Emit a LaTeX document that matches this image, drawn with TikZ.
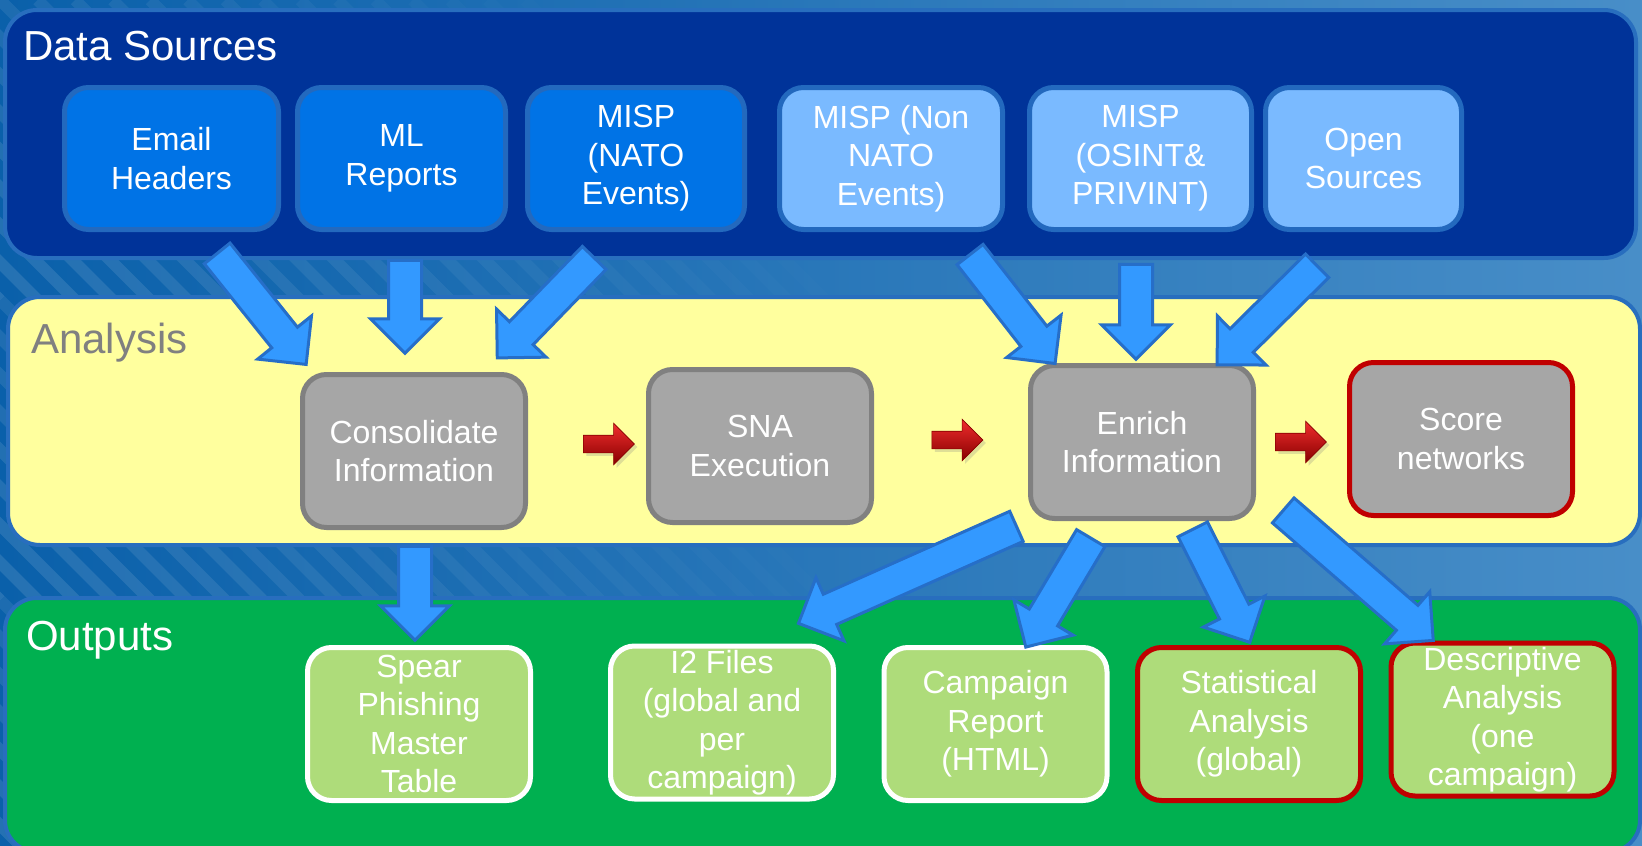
\documentclass[tikz,border=0pt]{standalone}
\usepackage{fontspec}
\setmainfont{Liberation Sans}
\usetikzlibrary{shapes.arrows,calc,shadows}

\definecolor{bgblue}{RGB}{10,96,170}
\definecolor{bglight}{RGB}{72,142,200}
\definecolor{panelblue}{RGB}{0,51,153}
\definecolor{paneledge}{RGB}{40,110,190}
\definecolor{srcdark}{RGB}{0,115,230}
\definecolor{srclight}{RGB}{122,186,255}
\definecolor{srcedge}{RGB}{35,105,190}
\definecolor{anayellow}{RGB}{255,255,158}
\definecolor{anagrey}{RGB}{166,166,166}
\definecolor{anaedge}{RGB}{128,128,128}
\definecolor{outgreen}{RGB}{0,176,80}
\definecolor{outfill}{RGB}{174,220,122}
\definecolor{boxred}{RGB}{192,0,0}
\definecolor{arrowblue}{RGB}{51,153,255}
\definecolor{arrowedge}{RGB}{38,110,200}
\definecolor{redtop}{RGB}{240,45,45}
\definecolor{redbottom}{RGB}{135,0,0}

\tikzset{
  panel/.style={draw=paneledge, line width=4pt, rounded corners=32pt},
  title/.style={anchor=base west, inner sep=0pt, font=\fontsize{42}{50}\selectfont},
  box/.style={rounded corners=24pt, line width=5pt, align=center, text=white,
    inner sep=0pt, font=\fontsize{32}{38.5}\selectfont},
  srcbox/.style={box, draw=srcedge, fill=srcdark, minimum height=142pt},
  srcboxlight/.style={srcbox, fill=srclight},
  anabox/.style={box, draw=anaedge, fill=anagrey, minimum width=223pt, minimum height=153pt},
  outbox/.style={box, draw=white, fill=outfill, minimum width=223pt, minimum height=153pt},
  bluearrow/.style={single arrow, draw=arrowedge, fill=arrowblue, line width=3pt,
    inner sep=15pt, single arrow head extend=18pt},
  redarrow/.style={single arrow, draw=redbottom, line width=0.6pt, inner sep=8.5pt,
    minimum height=51pt, single arrow head extend=12pt,
    top color=redtop, bottom color=redbottom,
    drop shadow={opacity=0.25, shadow xshift=3pt, shadow yshift=-3pt}}
}

% block arrow from tail #1 to tip #2
\newcommand\feed[2]{%
  \path let \p1=($(#2)-(#1)$), \n1={atan2(\y1,\x1)}, \n2={veclen(\x1,\y1)} in
    node[bluearrow, rotate=\n1, minimum height=\n2] at ($(#1)!0.5!(#2)$) {};}

\begin{document}
\begin{tikzpicture}[x=1pt,y=1pt]
  \useasboundingbox (0,0) rectangle (1642,-846);
  % background
  \fill[left color=bgblue, right color=bglight] (0,0) rectangle (1642,-846);
  \foreach \y in {0,-300,-600}
    \foreach \x in {-300,-262.5,...,750} {
      \pgfmathsetmacro\op{max(0,0.1*(1-(\x+150)/750))}
      \draw[white, opacity=\op, line width=12pt] (\x,\y) -- ++(300,-300);
    }

  % panels
  \draw[panel, fill=panelblue] (5,-10) rectangle (1636,-258);
  \draw[panel, fill=anayellow] (8,-297) rectangle (1640,-545);
  \draw[panel, fill=outgreen] (5,-598) rectangle (1640,-852);
  \node[title, text=white] (dstitle) at (23,-60) {Data Sources};
  \node[title, text=anaedge] (antitle) at (31,-353) {Analysis};
  \node[title, text=white] (outtitle) at (26,-650) {Outputs};

  % data sources
  \node[srcbox, minimum width=214pt] (email) at (171.5,-158.5) {Email\\Headers};
  \node[srcbox, minimum width=208pt] (mlrep) at (401.5,-158.5) {ML\\Reports};
  \node[srcbox, minimum width=217pt] (natoev) at (636,-158.5) {MISP\\(NATO\\Events)};
  \node[srcboxlight, minimum width=223pt] (nonnato) at (891,-158.5) {MISP (Non\\NATO\\Events)};
  \node[srcboxlight, minimum width=222pt] (osint) at (1140.5,-158.5) {MISP\\(OSINT\&\\PRIVINT)};
  \node[srcboxlight, minimum width=196pt] (opensrc) at (1363.5,-158.5) {Open\\Sources};

  % analysis
  \node[anabox] (consol) at (414,-451) {Consolidate\\Information};
  \node[anabox] (sna) at (760,-446) {SNA\\Execution};
  \node[anabox] (enrich) at (1142,-442) {Enrich\\Information};
  \node[anabox, draw=boxred] (score) at (1461,-439) {Score\\networks};

  % outputs
  \node[outbox] (spear) at (419,-724) {Spear\\Phishing\\Master\\Table};
  \node[outbox] (itwo) at (722,-722.5) {I2 Files\\(global and\\per\\campaign)};
  \node[outbox] (campaign) at (995.5,-724) {Campaign\\Report\\(HTML)};
  \node[outbox, draw=boxred] (stats) at (1249,-724) {Statistical\\Analysis\\(global)};
  \node[outbox, draw=boxred] (descr) at (1502.5,-719.5) {Descriptive\\Analysis\\(one\\campaign)};

  % red step arrows
  \node[redarrow] (step1) at (604.5,-444) {};
  \node[redarrow] (step2) at (953,-440) {};
  \node[redarrow] (step3) at (1296.5,-442) {};

  % ends of the block arrows
  \coordinate (t1) at (212,-247);  \coordinate (h1) at (301,-358);
  \coordinate (t2) at (405,-252);  \coordinate (h2) at (405,-345);
  \coordinate (t3) at (600,-252);  \coordinate (h3) at (503,-352);
  \coordinate (t4) at (965,-248);  \coordinate (h4) at (1050,-357);
  \coordinate (t5) at (1136,-256); \coordinate (h5) at (1136,-351);
  \coordinate (t6) at (1323,-260); \coordinate (h6) at (1223,-359);
  \coordinate (t7) at (415,-538);  \coordinate (h7) at (415,-632);
  \coordinate (t8) at (1024,-523); \coordinate (h8) at (806,-620);
  \coordinate (t9) at (1095,-531); \coordinate (h9) at (1030,-640);
  \coordinate (t10) at (1189,-522); \coordinate (h10) at (1246,-635);
  \coordinate (t11) at (1277,-505); \coordinate (h11) at (1427,-635);
  \foreach \i in {1,...,11}
    {\feed{t\i}{h\i}}
\end{tikzpicture}
\end{document}
